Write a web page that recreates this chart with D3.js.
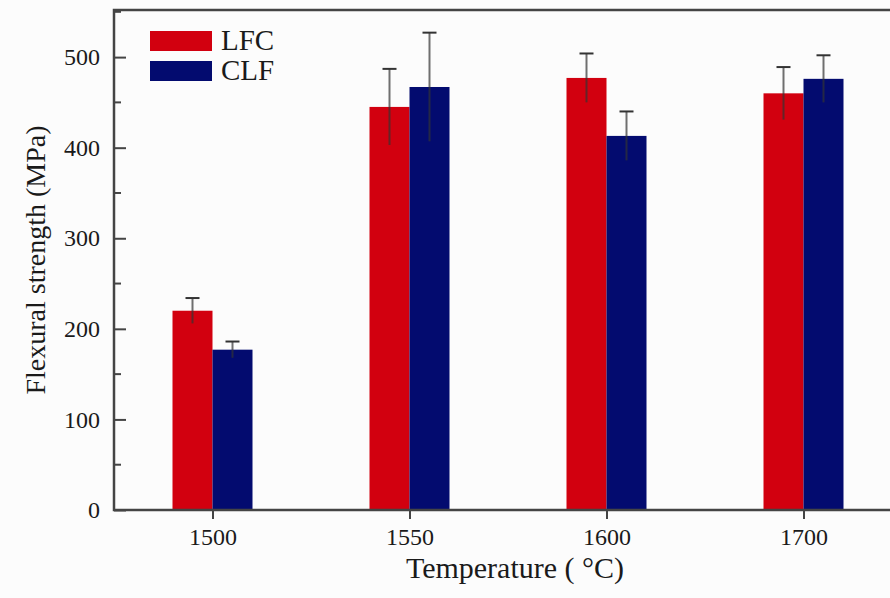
<!DOCTYPE html>
<html>
<head>
    <style type="text/css">
        body { margin: 0; background: #fcfcfc; }
        text { font-family: "Liberation Serif", "Times New Roman", serif; fill: #1a1a1a; }
    </style>
</head>
<body>
    <div id="chart"></div>
    <script src="https://d3js.org/d3.v7.min.js"></script>
    <script type="text/javascript">
        var categories = ['1500', '1550', '1600', '1700'];
        var seriesNames = ['LFC', 'CLF'];
        var lfcValues = [220, 445, 477, 460];
        var lfcErrors = [14, 42, 27, 29];
        var clfValues = [177, 467, 413, 476];
        var clfErrors = [9, 60, 27, 26];
        var yTicks = [0, 100, 200, 300, 400, 500];
        var colors = ['#d2000f', '#030b6f'];

        (function () {
            var width = 890, height = 598;
            var plotLeft = 114, plotTop = 10, plotBottom = 510;

            var svg = d3.select('#chart').append('svg')
                .attr('width', width)
                .attr('height', height);

            var x = d3.scalePoint()
                .domain(categories)
                .range([plotLeft, plotLeft + 197 * 4])
                .padding(0.5);

            var y = d3.scaleLinear()
                .domain([0, 552])
                .range([plotBottom, plotTop]);

            var barW = 40;
            var series = [
                { name: seriesNames[0], values: lfcValues, errors: lfcErrors, color: colors[0], off: -barW },
                { name: seriesNames[1], values: clfValues, errors: clfErrors, color: colors[1], off: 0 }
            ];

            // bars
            series.forEach(function (s) {
                svg.append('g').selectAll('rect')
                    .data(categories)
                    .enter().append('rect')
                    .attr('x', function (d) { return x(d) + s.off; })
                    .attr('y', function (d, i) { return y(s.values[i]); })
                    .attr('width', barW)
                    .attr('height', function (d, i) { return y(0) - y(s.values[i]); })
                    .attr('fill', s.color);
            });

            // error bars
            series.forEach(function (s) {
                var g = svg.append('g').attr('stroke', '#333').attr('stroke-width', 2);
                categories.forEach(function (d, i) {
                    var cx = x(d) + s.off + barW / 2;
                    g.append('line')
                        .attr('x1', cx).attr('x2', cx)
                        .attr('y1', y(s.values[i] - s.errors[i]))
                        .attr('y2', y(s.values[i] + s.errors[i]))
                        .attr('stroke-opacity', 0.7);
                    g.append('line')
                        .attr('x1', cx - 7).attr('x2', cx + 7)
                        .attr('y1', y(s.values[i] + s.errors[i]))
                        .attr('y2', y(s.values[i] + s.errors[i]));
                });
            });

            // frame
            svg.append('path')
                .attr('d', 'M' + width + ',' + plotTop + 'H' + plotLeft + 'V' + plotBottom + 'H' + width)
                .attr('fill', 'none')
                .attr('stroke', '#444')
                .attr('stroke-width', 2.5);

            // y axis ticks (inward)
            var yAxis = d3.axisLeft(y).tickValues(yTicks).tickSize(-12).tickPadding(14);
            var yg = svg.append('g').attr('transform', 'translate(' + plotLeft + ',0)').call(yAxis);
            yg.select('.domain').remove();
            yg.selectAll('.tick line').attr('stroke', '#444').attr('stroke-width', 2);
            yg.selectAll('.tick text').attr('font-size', 24).attr('font-family', '"Liberation Serif", serif').attr('fill', '#1a1a1a');
            var minor = d3.range(50, 552, 100);
            svg.append('g').selectAll('line').data(minor).enter().append('line')
                .attr('x1', plotLeft).attr('x2', plotLeft + 7)
                .attr('y1', function (d) { return y(d); })
                .attr('y2', function (d) { return y(d); })
                .attr('stroke', '#444').attr('stroke-width', 2);

            // x axis ticks
            var xAxis = d3.axisBottom(x).tickSize(9).tickPadding(9);
            var xg = svg.append('g').attr('transform', 'translate(0,' + plotBottom + ')').call(xAxis);
            xg.select('.domain').remove();
            xg.selectAll('.tick line').attr('stroke', '#444').attr('stroke-width', 2);
            xg.selectAll('.tick text').attr('font-size', 24).attr('font-family', '"Liberation Serif", serif').attr('fill', '#1a1a1a');

            // axis titles
            svg.append('text')
                .attr('x', 515).attr('y', 578)
                .attr('text-anchor', 'middle')
                .attr('font-size', 30)
                .text('Temperature ( \u00B0C)');

            svg.append('text')
                .attr('transform', 'translate(45,260) rotate(-90)')
                .attr('text-anchor', 'middle')
                .attr('font-size', 28)
                .text('Flexural strength (MPa)');

            // legend
            var legend = svg.append('g').attr('transform', 'translate(150,31)');
            series.forEach(function (s, i) {
                legend.append('rect')
                    .attr('x', 0).attr('y', i * 30)
                    .attr('width', 62).attr('height', 20)
                    .attr('fill', s.color);
                legend.append('text')
                    .attr('x', 71).attr('y', i * 30 + 19)
                    .attr('font-size', 29)
                    .text(s.name);
            });
        })();
    </script>
</body>
</html>
